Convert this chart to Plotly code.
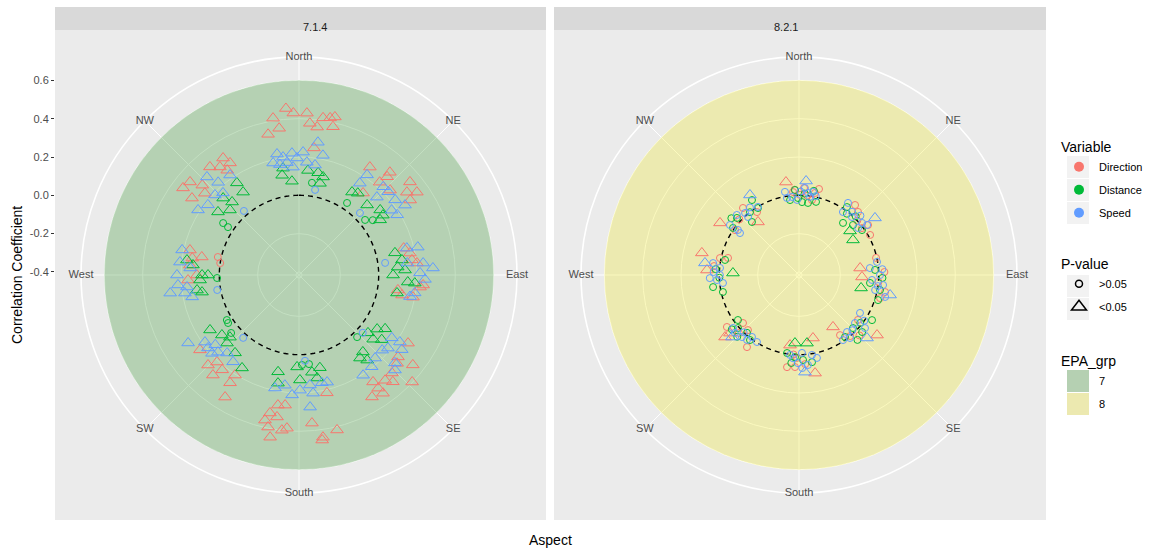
import numpy as np
import plotly.graph_objects as go

# ---------------------------------------------------------------- data
ASPECTS = ["North", "NE", "East", "SE", "South", "SW", "West", "NW"]
ASPECT_DEG = [0, 45, 90, 135, 180, 225, 270, 315]

R_TICKS = [-0.4, -0.2, 0.0, 0.2, 0.4, 0.6]
R_TICK_TEXT = ["-0.4", "-0.2", "0.0", "0.2", "0.4", "0.6"]

FACETS = ["7.1.4", "8.2.1"]
EPA_GROUPS = ["7", "8"]
VARIABLES = ["Direction", "Distance", "Speed"]
PVALUE_LABELS = [">0.05", "<0.05"]

# (jittered aspect in degrees, correlation coefficient, significant p<0.05)
f714_direction = [
    (355.5, 0.456, 1), (358, 0.43, 1), (350.6, 0.414, 1), (352.3, 0.357, 1), (347.6, 0.336, 1),
    (2.8, 0.43, 1), (4.1, 0.378, 1), (7, 0.362, 1), (8.7, 0.414, 1), (11.2, 0.42, 1),
    (12.8, 0.43, 1), (12.9, 0.378, 1), (6.7, 0.252, 1),
    (33.3, 0.258, 1), (41.5, 0.30, 1), (41.9, 0.273, 1), (50, 0.34, 1), (54.9, 0.336, 1),
    (56, 0.284, 1), (52.5, 0.294, 1), (41, 0.226, 1), (38, 0.127, 1), (47, 0.234, 1),
    (78.8, 0.174, 1), (75.6, 0.148, 1), (82.4, 0.179, 1), (84.2, 0.203, 1), (94.6, 0.234, 1),
    (98.6, 0.106, 1), (101, 0.132, 1), (101, 0.19, 1), (95.7, 0.219, 1),
    (122, 0.255, 1), (128.3, 0.341, 1), (133.4, 0.397, 1), (132, 0.273, 1), (136.5, 0.289, 1),
    (140.7, 0.294, 1), (145, 0.305, 1), (149.1, 0.326, 1), (144.6, 0.341, 1), (145.3, 0.263, 1),
    (138.7, 0.326, 1), (129.6, 0.255, 1),
    (189.2, 0.272, 1), (186.1, 0.267, 1), (191.9, 0.32, 1), (193.2, 0.362, 1), (188.8, 0.334, 1),
    (191.5, 0.394, 1), (186.3, 0.399, 1), (190.1, 0.444, 1), (184.5, 0.386, 1), (175, 0.36, 1),
    (171.6, 0.44, 1), (172, 0.454, 1), (166.2, 0.417, 1), (166.7, 0.216, 1),
    (232.9, 0.232, 1), (225.3, 0.252, 1), (220.7, 0.273, 1), (219, 0.221, 1), (212.6, 0.252, 1),
    (211.2, 0.329, 1), (212.6, 0.204, 1), (223.3, 0.208, 1),
    (282.9, 0.168, 1), (280.5, 0.1, 1), (279, 0.148, 1), (267.4, 0.164, 1), (270, 0.117, 1),
    (275.2, 0.156, 1), (282.5, 0.018, 0), (278.6, 0.0, 0),
    (327, 0.312, 1), (328.4, 0.271, 1), (320.5, 0.315, 1), (323.8, 0.283, 1), (310.5, 0.332, 1),
    (306.9, 0.341, 1), (312.9, 0.273, 1), (305.7, 0.272, 1), (311, 0.235, 1), (325.6, 0.247, 1),
]
f714_distance = [
    (350.4, 0.112, 1), (355.7, 0.075, 1), (4.9, 0.132, 1), (10.6, 0.127, 1), (13.8, 0.111, 1),
    (12.9, 0.075, 1), (8, 0.07, 0), (351.5, 0.148, 1),
    (32.6, 0.098, 1), (35.7, 0.11, 1), (44.2, 0.094, 1), (51.3, 0.127, 1), (55.8, 0.096, 1),
    (54.5, 0.122, 1), (53.4, 0.064, 0), (50.2, 0.033, 0), (33.7, 0.036, 0),
    (77, 0.098, 1), (81.7, 0.127, 1), (90, 0.075, 1), (85.4, 0.101, 1), (93.7, 0.153, 1),
    (100.4, 0.104, 1), (94, 0.19, 1), (87.3, 0.138, 1),
    (130, 0.054, 1), (124.7, 0.08, 1), (122, 0.114, 1), (130.9, 0.096, 1), (143.7, 0.122, 1),
    (141.3, 0.153, 1), (128, 0.132, 1), (140.3, 0.106, 1), (136.9, 0.028, 0),
    (192.2, 0.101, 1), (181.2, 0.064, 1), (172.4, 0.096, 1), (167.3, 0.08, 1), (179.5, 0.132, 1),
    (170, 0.13, 1), (191, 0.159, 1), (178.1, 0.054, 0), (173.6, 0.052, 0),
    (238.3, 0.13, 1), (232.1, 0.094, 1), (228, 0.069, 1), (219.4, 0.11, 1), (211.5, 0.153, 1),
    (226.6, 0.101, 1), (238, 0.028, 0), (235.9, 0.031, 0), (229.5, 0.05, 0),
    (277.6, 0.174, 1), (275.4, 0.14, 1), (270, 0.09, 1), (267.1, 0.101, 1), (270, 0.059, 1),
    (261.6, 0.122, 1), (260, 0.098, 1), (267.9, 0.012, 0),
    (326, 0.164, 1), (326, 0.106, 1), (317.5, 0.101, 1), (313.3, 0.079, 1), (307.9, 0.12, 1),
    (315.4, 0.148, 1), (304.4, 0.064, 0), (304, 0.031, 0),
]
f714_speed = [
    (349.7, 0.226, 1), (352.3, 0.205, 1), (356.7, 0.221, 1), (1.9, 0.226, 1), (359, 0.195, 1),
    (353.9, 0.174, 1), (350.2, 0.169, 1), (356.8, 0.148, 1), (4, 0.174, 1), (8.1, 0.284, 1),
    (11.3, 0.221, 1), (8.3, 0.164, 1), (10.7, 0.036, 0), (347, 0.184, 1),
    (34.2, 0.216, 1), (33.5, 0.159, 1), (45, 0.159, 1), (47, 0.221, 1), (55, 0.174, 1),
    (58.5, 0.185, 1), (56.6, 0.247, 1), (52, 0.221, 1), (44.5, 0.038, 0), (43.7, 0.221, 1),
    (76, 0.164, 1), (76.8, 0.221, 1), (87, 0.284, 1), (89, 0.216, 1), (98.8, 0.195, 1),
    (101, 0.174, 1), (83.7, 0.153, 1), (84.5, 0.235, 1), (82, 0.038, 0), (92, 0.242, 1),
    (124.1, 0.169, 1), (123.6, 0.216, 1), (129.4, 0.185, 1), (132.1, 0.169, 1), (141.6, 0.195, 1),
    (147.4, 0.205, 1), (134.7, 0.289, 1), (126, 0.247, 1), (137.5, 0.172, 1), (132.5, 0.263, 1),
    (132.2, 0.033, 0),
    (192, 0.187, 1), (187.3, 0.164, 1), (183.3, 0.211, 1), (179.5, 0.185, 1), (174.3, 0.161, 1),
    (168, 0.159, 1), (173.2, 0.205, 1), (175.2, 0.276, 1), (165.3, 0.162, 1), (176, 0.033, 0),
    (238.5, 0.263, 1), (234.5, 0.187, 1), (231.3, 0.193, 1), (226.4, 0.168, 1), (222.7, 0.138, 1),
    (217.2, 0.153, 1), (230.2, 0.153, 1), (228, 0.195, 1), (221.6, 0.023, 0),
    (282.1, 0.208, 1), (276.2, 0.209, 1), (270, 0.221, 1), (262, 0.263, 1), (261, 0.187, 1),
    (258.4, 0.153, 1), (263.9, 0.172, 1), (265.3, 0.218, 1), (273.7, 0.153, 1), (259.6, 0.018, 0),
    (316.8, 0.286, 1), (318.9, 0.226, 1), (302.8, 0.211, 1), (307.6, 0.184, 1), (317.2, 0.168, 1),
    (325.4, 0.218, 1), (313.6, 0.19, 1), (319.3, 0.025, 0),
]

f821_direction = [
    (355.9, 0.018, 0), (3.3, 0.039, 0), (11, 0.02, 0), (13.1, 0.045, 0), (9.8, -0.019, 0),
    (0.7, 0.002, 0), (352, 0.074, 1), (357, 0.03, 0), (6, 0.0, 0),
    (43.1, 0.035, 0), (53.3, -0.006, 0), (38.7, 0.052, 0), (54.1, 0.029, 0), (60.6, 0.01, 0),
    (47, 0.0, 0),
    (77.5, -0.004, 0), (101.2, 0.042, 0), (105.9, 0.024, 0), (91.8, -0.087, 1), (83.5, -0.095, 1),
    (95, 0.0, 0), (88, 0.03, 0),
    (146.8, -0.092, 1), (127.6, 0.098, 1), (145.7, -0.036, 0), (127.3, -0.029, 0),
    (135, 0.03, 0), (140, 0.0, 0),
    (187.3, -0.047, 1), (167.5, -0.079, 1), (170.7, 0.103, 1), (187.4, 0.069, 0), (182.5, 0.065, 0),
    (181.4, 0.017, 0), (176, 0.05, 0), (184, 0.0, 0),
    (230, 0.088, 1), (229.9, 0.055, 1), (234.2, 0.048, 0), (222.8, -0.024, 0), (215.8, 0.048, 0),
    (229.4, -0.031, 0), (226, 0.02, 0),
    (282.8, 0.104, 1), (273.1, 0.065, 1), (283.5, -0.035, 0), (282.1, 0.006, 0), (276, 0.03, 0),
    (303.4, 0.078, 1), (322.3, -0.066, 1), (320.1, 0.04, 0), (305.1, -0.008, 0), (326.3, -0.021, 0),
    (313, 0.01, 0),
]
f821_distance = [
    (357.3, 0.028, 0), (2.4, -0.035, 0), (7.1, -0.037, 0), (359.3, -0.014, 0), (13.1, -0.024, 0),
    (353.2, -0.022, 0), (4, 0.01, 0), (10, 0.03, 0),
    (35.2, 0.018, 0), (47.2, -0.032, 0), (40.2, -0.06, 0), (54.5, -0.012, 0), (49.2, -0.064, 1),
    (57, -0.08, 1), (44, 0.01, 0), (38, -0.01, 0),
    (96.4, -0.043, 0), (100.5, 0.014, 0), (107.6, 0.017, 0), (101.8, -0.085, 1), (86.2, -0.018, 0),
    (92, 0.02, 0),
    (121.7, 0.032, 0), (132.1, 0.028, 0), (134.5, -0.021, 0), (143.4, -0.013, 0),
    (128, -0.01, 0), (138, 0.04, 0),
    (183.4, -0.06, 1), (173.3, -0.058, 1), (188.7, -0.004, 0), (177.3, 0.028, 0), (182.8, 0.013, 0),
    (171.5, 0.044, 0), (185, 0.045, 0),
    (233.6, -0.02, 0), (229, 0.006, 0), (217, 0.009, 0), (225, 0.04, 0), (222, -0.01, 0),
    (231, 0.035, 0),
    (281.5, -0.022, 0), (262, 0.037, 0), (257.4, -0.009, 0), (271.7, -0.071, 1), (274, 0.02, 0),
    (268, 0.0, 0),
    (327.9, 0.046, 0), (312.6, 0.024, 0), (318.4, -0.046, 0), (305.5, 0.007, 0), (328.5, -0.006, 0),
    (322, 0.0, 0), (310, 0.045, 0),
]
f821_speed = [
    (350.4, 0.024, 0), (351.1, -0.009, 0), (354.9, -0.007, 0), (6.3, 0.015, 0), (3.9, 0.039, 0),
    (9.6, 0.024, 0), (358.5, -0.024, 0), (8, -0.004, 0), (4.3, 0.076, 1), (1, 0.02, 0),
    (12, 0.005, 0),
    (34.2, 0.039, 0), (34.9, -0.015, 0), (42.4, -0.006, 0), (50.5, 0.011, 0), (53.7, 0.025, 0),
    (53.1, 0.08, 1), (51.5, -0.022, 0), (46, 0.03, 0), (40, 0.015, 0),
    (84.4, -0.044, 0), (80.5, -0.003, 0), (90, 0.007, 0), (96.8, 0.026, 0), (101.2, -0.011, 0),
    (104.3, 0.048, 0), (93.9, -0.034, 0), (102.4, 0.071, 1), (98, 0.0, 0), (86, 0.02, 0),
    (121.9, -0.041, 0), (130.6, -0.031, 0), (139.9, -0.027, 0), (145.9, -0.006, 0), (141, 0.007, 0),
    (128.8, 0.026, 0), (132.8, 0.068, 1), (125, 0.0, 0), (136, -0.015, 0),
    (176.5, 0.092, 1), (186.4, 0.004, 0), (177.8, -0.009, 0), (170.8, 0.007, 0), (167.8, 0.027, 0),
    (180.7, 0.044, 0), (174.3, 0.056, 0), (184, 0.02, 0), (178, 0.07, 0),
    (231.2, 0.026, 0), (222.6, 0.024, 0), (217.2, -0.01, 0), (212.1, -0.003, 0), (218.7, 0.018, 0),
    (227.2, 0.061, 1), (224, 0.0, 0), (228, 0.035, 0),
    (277.3, 0.079, 1), (277.9, 0.037, 0), (270, -0.003, 0), (266.5, 0.013, 0), (264, -0.017, 0),
    (275.1, -0.002, 0), (272, 0.03, 0), (268, 0.05, 0),
    (328.5, 0.074, 1), (319, 0.013, 0), (305.4, -0.038, 0), (306.4, -0.02, 0), (328.9, -0.001, 0),
    (305.9, 0.029, 0), (318.7, -0.013, 0), (314, 0.035, 0), (324, 0.02, 0),
]

EPA_RADIUS = 0.6      # extent of the shaded EPA group disk
REF_LINE = 0.0        # dashed zero-correlation ring
R_RANGE = [-0.416, 0.722]

# ---------------------------------------------------------------- style
W, H = 1150, 550
FONT = "Liberation Sans, Arial, Helvetica, sans-serif"
VAR_COLORS = ["#F8766D", "#00BA38", "#619CFF"]
EPA_FILL = ["rgba(20,130,10,0.25)", "rgba(240,230,0,0.25)"]
EPA_KEY = ["#B5D0B2", "#ECE9B0"]
PANEL_BG = "#EBEBEB"
STRIP_BG = "#D9D9D9"

CENTERS = [(299, 275), (799, 275)]   # pixel centres of the two polar panels
RADIUS_PX = 218
PANELS_X = [(55, 546), (554, 1046)]
PANEL_Y = (30, 520)
STRIP_Y = (7, 30)


def px(x):
    return x / W


def py(y):
    return 1 - y / H


facet_data = [
    [f714_direction, f714_distance, f714_speed],
    [f821_direction, f821_distance, f821_speed],
]

fig = go.Figure()
ring = np.linspace(0, 360, 361)

for fi, facet in enumerate(FACETS):
    sub = "polar" if fi == 0 else "polar2"
    # EPA group disk
    fig.add_trace(go.Scatterpolar(
        r=[EPA_RADIUS] * len(ring), theta=ring, mode="lines", fill="toself",
        fillcolor=EPA_FILL[fi], line=dict(width=0, color=EPA_FILL[fi]),
        subplot=sub, showlegend=False, hoverinfo="skip"))
    # zero reference ring
    fig.add_trace(go.Scatterpolar(
        r=[REF_LINE] * len(ring), theta=ring, mode="lines",
        line=dict(color="black", width=1.4, dash="5px,4px"),
        subplot=sub, showlegend=False, hoverinfo="skip"))
    # correlation points
    for vi, rows in enumerate(facet_data[fi]):
        col = VAR_COLORS[vi]
        for sig, symbol, size in ((0, "circle-open", 7), (1, "triangle-up-open", 11)):
            pts = [p for p in rows if p[2] == sig]
            if not pts:
                continue
            fig.add_trace(go.Scatterpolar(
                theta=[p[0] for p in pts], r=[p[1] for p in pts], mode="markers",
                marker=dict(symbol=symbol, size=size, color=col, line=dict(width=1, color=col)),
                subplot=sub, showlegend=False, hoverinfo="skip"))
    # aspect labels sitting on the outer ring
    fig.add_trace(go.Scatterpolar(
        r=[R_RANGE[1]] * len(ASPECTS), theta=ASPECT_DEG, text=ASPECTS, mode="text",
        textfont=dict(family=FONT, size=11, color="#4D4D4D"), cliponaxis=False,
        subplot=sub, showlegend=False, hoverinfo="skip"))


def polar_layout(cx, cy):
    return dict(
        domain=dict(x=[px(cx - RADIUS_PX), px(cx + RADIUS_PX)],
                    y=[py(cy + RADIUS_PX), py(cy - RADIUS_PX)]),
        bgcolor="rgba(0,0,0,0)",
        radialaxis=dict(range=R_RANGE, tickvals=R_TICKS, showticklabels=False, ticks="",
                        showline=False, gridcolor="white", gridwidth=1, layer="below traces"),
        angularaxis=dict(rotation=90, direction="clockwise", tickvals=ASPECT_DEG,
                         showticklabels=False, ticks="", gridcolor="white", gridwidth=1,
                         showline=True, linecolor="white", linewidth=1.6,
                         layer="below traces"),
    )


# cartesian axis carrying the radial scale on the left of the first panel
r_top = R_RANGE[0] + (CENTERS[0][1] - PANEL_Y[0]) / (RADIUS_PX / (R_RANGE[1] - R_RANGE[0]))
r_bot = R_RANGE[0] - (PANEL_Y[1] - CENTERS[0][1]) / (RADIUS_PX / (R_RANGE[1] - R_RANGE[0]))
fig.add_trace(go.Scatter(x=[None], y=[None], xaxis="x", yaxis="y", showlegend=False,
                         hoverinfo="skip"))

# legend entries
for vi, name in enumerate(VARIABLES):
    fig.add_trace(go.Scatter(
        x=[None], y=[None], mode="markers", name=name, legend="legend",
        legendgroup="v" + name,
        marker=dict(symbol="circle", size=10, color=VAR_COLORS[vi])))
for label, symbol, size in zip(PVALUE_LABELS, ["circle-open", "triangle-up-open"], [7, 13]):
    fig.add_trace(go.Scatter(
        x=[None], y=[None], mode="markers", name=label, legend="legend2",
        legendgroup="p" + label,
        marker=dict(symbol=symbol, size=size, color="black", line=dict(width=1.5, color="black"))))
for gi, g in enumerate(EPA_GROUPS):
    fig.add_trace(go.Scatter(
        x=[None], y=[None], mode="markers", name=g, legend="legend3",
        legendgroup="e" + g,
        marker=dict(symbol="square", size=16, color=EPA_KEY[gi])))

shapes = []
annotations = []
for fi, (x0, x1) in enumerate(PANELS_X):
    shapes.append(dict(type="rect", xref="paper", yref="paper", x0=px(x0), x1=px(x1),
                       y0=py(PANEL_Y[1]), y1=py(PANEL_Y[0]), fillcolor=PANEL_BG,
                       line=dict(width=0), layer="below"))
    shapes.append(dict(type="rect", xref="paper", yref="paper", x0=px(x0), x1=px(x1),
                       y0=py(STRIP_Y[1]), y1=py(STRIP_Y[0]), fillcolor=STRIP_BG,
                       line=dict(width=0), layer="below"))
    annotations.append(dict(text=FACETS[fi], xref="paper", yref="paper",
                            x=px((x0 + x1) / 2), y=py((STRIP_Y[0] + STRIP_Y[1]) / 2),
                            showarrow=False, font=dict(family=FONT, size=11, color="#1A1A1A")))

# legend key backgrounds
KEY_X = (1067, 1089)
for y0 in [156, 179, 202, 275, 298]:
    shapes.append(dict(type="rect", xref="paper", yref="paper", x0=px(KEY_X[0]), x1=px(KEY_X[1]),
                       y0=py(y0 + 22), y1=py(y0), fillcolor="#F2F2F2", line=dict(width=0),
                       layer="below"))
for gi, y0 in enumerate([370, 393]):
    shapes.append(dict(type="rect", xref="paper", yref="paper", x0=px(KEY_X[0]), x1=px(KEY_X[1]),
                       y0=py(y0 + 22), y1=py(y0), fillcolor=EPA_KEY[gi], line=dict(width=0),
                       layer="below"))

annotations.append(dict(text="Correlation Coefficient", xref="paper", yref="paper",
                        x=px(17), y=py(275), textangle=-90, showarrow=False,
                        xanchor="center", yanchor="middle",
                        font=dict(family=FONT, size=14, color="black")))
annotations.append(dict(text="Aspect", xref="paper", yref="paper", x=px(550), y=py(540),
                        showarrow=False, xanchor="center", yanchor="middle",
                        font=dict(family=FONT, size=14, color="black")))

legend_common = dict(
    xanchor="left", yanchor="top", bgcolor="rgba(0,0,0,0)", borderwidth=0,
    font=dict(family=FONT, size=11, color="black"), tracegroupgap=4,
    traceorder="grouped", itemclick=False, itemdoubleclick=False,
)

fig.update_layout(
    width=W, height=H,
    margin=dict(l=0, r=0, t=0, b=0),
    paper_bgcolor="white", plot_bgcolor="rgba(0,0,0,0)",
    font=dict(family=FONT),
    polar=polar_layout(*CENTERS[0]),
    polar2=polar_layout(*CENTERS[1]),
    xaxis=dict(domain=[px(PANELS_X[0][0]), px(PANELS_X[0][1])], range=[0, 1], visible=False,
               fixedrange=True),
    yaxis=dict(domain=[py(PANEL_Y[1]), py(PANEL_Y[0])], range=[r_bot, r_top],
               tickvals=R_TICKS, ticktext=R_TICK_TEXT, ticks="outside", ticklen=3,
               tickwidth=1, tickcolor="#333333", showgrid=False, zeroline=False,
               showline=False, automargin=False, fixedrange=True,
               tickfont=dict(family=FONT, size=11, color="#4D4D4D")),
    legend=dict(x=px(1059), y=py(134), title=dict(text="Variable", font=dict(size=14)),
                **legend_common),
    legend2=dict(x=px(1059), y=py(251), title=dict(text="P-value", font=dict(size=14)),
                 **legend_common),
    legend3=dict(x=px(1059), y=py(348), title=dict(text="EPA_grp", font=dict(size=14)),
                 **legend_common),
    shapes=shapes,
    annotations=annotations,
)

fig.write_html("out.html")
